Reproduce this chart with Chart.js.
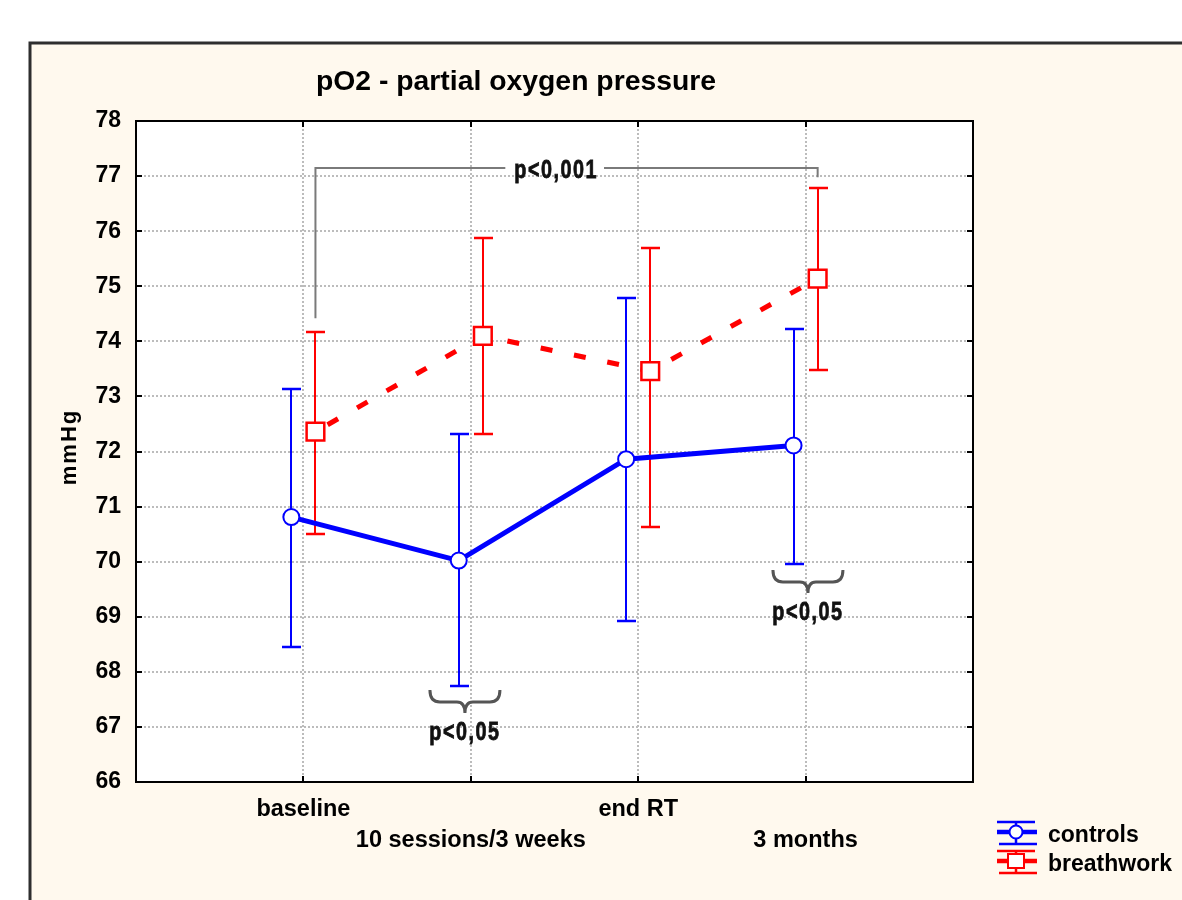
<!DOCTYPE html>
<html>
<head>
<meta charset="utf-8">
<title>pO2 - partial oxygen pressure</title>
<script src="https://cdn.jsdelivr.net/npm/chart.js@4.4.1/dist/chart.umd.min.js"></script>
<style>
  html, body { margin: 0; padding: 0; background: #ffffff; }
  canvas { display: block; }
</style>
</head>
<body>
<canvas id="chart" width="1182" height="900"></canvas>
<script>
// ---- data (mmHg, mean with 95% CI) ----
const categories = ['baseline', '10 sessions/3 weeks', 'end RT', '3 months'];
const seriesNames = ['controls', 'breathwork'];

const controlsMean = [70.81, 70.02, 71.86, 72.11];
const controlsLow  = [68.45, 67.74, 68.92, 69.96];
const controlsHigh = [73.13, 72.31, 74.78, 74.22];

const breathworkMean = [72.36, 74.10, 73.46, 75.14];
const breathworkLow  = [70.51, 72.31, 70.63, 73.48];
const breathworkHigh = [74.17, 75.88, 75.70, 76.78];

const yMin = 66;
const yMax = 78;

// significance annotations
const bracketLabel = 'p<0,001';
const bracketLevel = 77.15;             // horizontal bar of the bracket
const bracketLegEnds = [74.42, 76.98];  // lower ends of the two legs
const bracketSpan = [0, 3];             // breathwork: baseline -> 3 months
const bracketLabelX = 2.51;

const braceLabels = ['p<0,05', 'p<0,05'];
const braceCenters = [1.965, 4.014];
const braceTops = [67.67, 69.85];

// ---- styling ----
const BLUE = '#0000ff';
const RED = '#ff0000';
const CREAM = '#fff9ee';
const GRID = '#bcbcbc';
const DODGE = 0.072;  // horizontal offset of the two groups around each category
const FONT = '"Liberation Sans", Arial, sans-serif';

// x-axis labels are staggered on two rows
const xLabelLines = categories.map((c, i) => (i % 2 === 0 ? [c] : ['', c]));

function drawText(ctx, text, x, y, o) {
  ctx.save();
  ctx.font = o.font;
  ctx.fillStyle = o.color || '#000';
  ctx.textAlign = o.align || 'center';
  ctx.textBaseline = o.baseline || 'alphabetic';
  if (o.spacing) ctx.letterSpacing = o.spacing + 'px';
  ctx.translate(x, y);
  if (o.rotate) ctx.rotate(o.rotate);
  ctx.scale(o.sx || 1, 1);
  ctx.fillText(text, 0, 0);
  if (o.stroke) {
    ctx.strokeStyle = o.color || '#000';
    ctx.lineWidth = o.stroke;
    ctx.strokeText(text, 0, 0);
  }
  ctx.restore();
}

function textWidth(ctx, text, o) {
  ctx.save();
  ctx.font = o.font;
  if (o.spacing) ctx.letterSpacing = o.spacing + 'px';
  const w = ctx.measureText(text).width * (o.sx || 1);
  ctx.restore();
  return w;
}

const series = [
  { mean: controlsMean, low: controlsLow, high: controlsHigh, color: BLUE, shift: -DODGE },
  { mean: breathworkMean, low: breathworkLow, high: breathworkHigh, color: RED, shift: DODGE }
];

const panelPlugin = {
  id: 'panel',
  beforeDraw(chart) {
    const { ctx, chartArea: a } = chart;
    ctx.save();
    ctx.fillStyle = '#ffffff';
    ctx.fillRect(0, 0, chart.width, chart.height);
    ctx.fillStyle = CREAM;
    ctx.fillRect(30, 43, chart.width - 30, chart.height - 43);
    ctx.strokeStyle = '#2e2e2e';
    ctx.lineWidth = 3;
    ctx.beginPath();
    ctx.moveTo(30, chart.height);
    ctx.lineTo(30, 43);
    ctx.lineTo(chart.width, 43);
    ctx.stroke();
    ctx.fillStyle = '#ffffff';
    ctx.fillRect(a.left, a.top, a.right - a.left, a.bottom - a.top);
    ctx.restore();
  }
};

const errorBarPlugin = {
  id: 'errorBars',
  beforeDatasetsDraw(chart) {
    const { ctx } = chart;
    const xs = chart.scales.x, ys = chart.scales.y;
    ctx.save();
    ctx.lineWidth = 2;
    series.forEach((s) => {
      ctx.strokeStyle = s.color;
      s.mean.forEach((_, i) => {
        const x = Math.round(xs.getPixelForValue(i + 1 + s.shift));
        const yl = Math.round(ys.getPixelForValue(s.low[i]));
        const yh = Math.round(ys.getPixelForValue(s.high[i]));
        ctx.beginPath();
        ctx.moveTo(x, yl); ctx.lineTo(x, yh);
        ctx.stroke();
        ctx.lineWidth = 2.5;
        ctx.beginPath();
        ctx.moveTo(x - 9, yl); ctx.lineTo(x + 10, yl);
        ctx.moveTo(x - 9, yh); ctx.lineTo(x + 10, yh);
        ctx.stroke();
        ctx.lineWidth = 2;
      });
    });
    ctx.restore();
  }
};

function drawBrace(ctx, xc, y0, half) {
  const x0 = xc - half, x1 = xc + half;
  const h1 = 12, h2 = 23;
  ctx.beginPath();
  ctx.moveTo(x0, y0);
  ctx.quadraticCurveTo(x0, y0 + h1, x0 + 10, y0 + h1);
  ctx.lineTo(xc - 8, y0 + h1);
  ctx.quadraticCurveTo(xc, y0 + h1, xc, y0 + h2);
  ctx.quadraticCurveTo(xc, y0 + h1, xc + 8, y0 + h1);
  ctx.lineTo(x1 - 10, y0 + h1);
  ctx.quadraticCurveTo(x1, y0 + h1, x1, y0);
  ctx.stroke();
}

const annotationPlugin = {
  id: 'annotations',
  afterDatasetsDraw(chart) {
    const { ctx, chartArea: a } = chart;
    const xs = chart.scales.x, ys = chart.scales.y;

    // plot frame with inward tick marks
    ctx.save();
    ctx.strokeStyle = '#000';
    ctx.lineWidth = 2;
    ctx.strokeRect(a.left, a.top, a.right - a.left, a.bottom - a.top);
    ctx.beginPath();
    ys.ticks.forEach((t) => {
      const y = Math.round(ys.getPixelForValue(t.value));
      ctx.moveTo(a.left, y); ctx.lineTo(a.left + 6, y);
      ctx.moveTo(a.right, y); ctx.lineTo(a.right - 6, y);
    });
    xs.ticks.forEach((t) => {
      const x = Math.round(xs.getPixelForValue(t.value));
      ctx.moveTo(x, a.top); ctx.lineTo(x, a.top + 6);
      ctx.moveTo(x, a.bottom); ctx.lineTo(x, a.bottom - 6);
    });
    ctx.stroke();
    ctx.restore();

    const pFont = { font: 'bold 26px ' + FONT, sx: 0.76, spacing: 2, align: 'center', baseline: 'middle', color: '#111', stroke: 0.8 };

    // bracket between breathwork baseline and 3 months
    const xa = xs.getPixelForValue(bracketSpan[0] + 1 + DODGE);
    const xb = xs.getPixelForValue(bracketSpan[1] + 1 + DODGE);
    const yb = Math.round(ys.getPixelForValue(bracketLevel));
    const xt = xs.getPixelForValue(bracketLabelX);
    const tw = textWidth(ctx, bracketLabel, pFont);
    ctx.save();
    ctx.strokeStyle = '#7a7a7a';
    ctx.lineWidth = 2;
    ctx.beginPath();
    ctx.moveTo(xa, ys.getPixelForValue(bracketLegEnds[0]));
    ctx.lineTo(xa, yb);
    ctx.lineTo(xt - tw / 2 - 9, yb);
    ctx.moveTo(xt + tw / 2 + 6, yb);
    ctx.lineTo(xb, yb);
    ctx.lineTo(xb, ys.getPixelForValue(bracketLegEnds[1]));
    ctx.stroke();
    ctx.restore();
    drawText(ctx, bracketLabel, xt, yb + 3, pFont);

    // braces under controls error bars
    ctx.save();
    ctx.strokeStyle = '#555555';
    ctx.lineWidth = 3;
    braceCenters.forEach((c, i) => {
      const xc = xs.getPixelForValue(c);
      const y0 = ys.getPixelForValue(braceTops[i]);
      drawBrace(ctx, xc, y0, 35);
      drawText(ctx, braceLabels[i], xc, y0 + 43, pFont);
    });
    ctx.restore();
  },
  afterDraw(chart) {
    const { ctx } = chart;
    // title
    drawText(ctx, 'pO2 - partial oxygen pressure', 516, 90,
      { font: 'bold 27px ' + FONT, sx: 1.05, align: 'center' });
    // y-axis title
    drawText(ctx, 'mmHg', 70, 447,
      { font: 'bold 22px ' + FONT, rotate: -Math.PI / 2, spacing: 2, align: 'center', baseline: 'middle' });

    // legend
    const items = [
      { name: seriesNames[0], color: BLUE, cy: 832, marker: 'circle' },
      { name: seriesNames[1], color: RED, cy: 861, marker: 'rect' }
    ];
    items.forEach((it) => {
      const cx = 1016;
      ctx.save();
      ctx.strokeStyle = it.color;
      ctx.lineWidth = 2.5;
      ctx.beginPath();
      ctx.moveTo(cx - 19, it.cy - 10); ctx.lineTo(cx + 19, it.cy - 10);
      ctx.moveTo(cx - 17, it.cy + 12); ctx.lineTo(cx + 21, it.cy + 12);
      ctx.moveTo(cx, it.cy - 10); ctx.lineTo(cx, it.cy + 12);
      ctx.stroke();
      ctx.lineWidth = 4.5;
      ctx.beginPath();
      ctx.moveTo(cx - 19, it.cy); ctx.lineTo(cx + 21, it.cy);
      ctx.stroke();
      ctx.fillStyle = '#fff';
      ctx.lineWidth = 2;
      ctx.beginPath();
      if (it.marker === 'circle') {
        ctx.arc(cx, it.cy, 6.5, 0, Math.PI * 2);
      } else {
        ctx.rect(cx - 8, it.cy - 7, 16, 14);
      }
      ctx.fill();
      ctx.stroke();
      ctx.restore();
      drawText(ctx, it.name, 1048, it.cy + 10,
        { font: 'bold 23px ' + FONT, align: 'left' });
    });
  }
};

new Chart(document.getElementById('chart'), {
  type: 'line',
  data: {
    datasets: [
      {
        label: seriesNames[0],
        data: controlsMean.map((v, i) => ({ x: i + 1 - DODGE, y: v })),
        borderColor: BLUE,
        borderWidth: 5,
        pointStyle: 'circle',
        pointRadius: 8,
        pointBorderWidth: 2,
        pointBackgroundColor: '#ffffff',
        pointBorderColor: BLUE,
        tension: 0,
        fill: false
      },
      {
        label: seriesNames[1],
        data: breathworkMean.map((v, i) => ({ x: i + 1 + DODGE, y: v })),
        borderColor: RED,
        borderWidth: 5,
        borderDash: [12, 22],
        borderDashOffset: 20,
        pointStyle: 'rect',
        pointRadius: 12.5,
        pointBorderWidth: 2.5,
        pointBackgroundColor: '#ffffff',
        pointBorderColor: RED,
        tension: 0,
        fill: false
      }
    ]
  },
  options: {
    responsive: false,
    animation: false,
    devicePixelRatio: 1,
    layout: { padding: { left: 0, top: 121, right: 209, bottom: 0 } },
    plugins: {
      legend: { display: false },
      title: { display: false },
      tooltip: { enabled: false }
    },
    scales: {
      x: {
        type: 'linear',
        min: 0,
        max: categories.length + 1,
        afterBuildTicks: (scale) => {
          scale.ticks = categories.map((_, i) => ({ value: i + 1 }));
        },
        afterFit: (scale) => { scale.height = 118; },
        ticks: {
          autoSkip: false,
          maxRotation: 0,
          minRotation: 0,
          padding: 12,
          color: '#000',
          font: { family: FONT, size: 23.5, weight: 'bold', lineHeight: 1.32 },
          callback: (value) => xLabelLines[Math.round(value) - 1] || ''
        },
        grid: { color: GRID, lineWidth: 2, drawTicks: false },
        border: { display: false, dash: [2, 2] }
      },
      y: {
        min: yMin,
        max: yMax,
        afterFit: (scale) => { scale.width = 136; },
        ticks: {
          stepSize: 1,
          padding: 15,
          color: '#000',
          font: { family: FONT, size: 23, weight: 'bold' }
        },
        grid: { color: GRID, lineWidth: 2, drawTicks: false },
        border: { display: false, dash: [2, 2] }
      }
    }
  },
  plugins: [panelPlugin, errorBarPlugin, annotationPlugin]
});
</script>
</body>
</html>
